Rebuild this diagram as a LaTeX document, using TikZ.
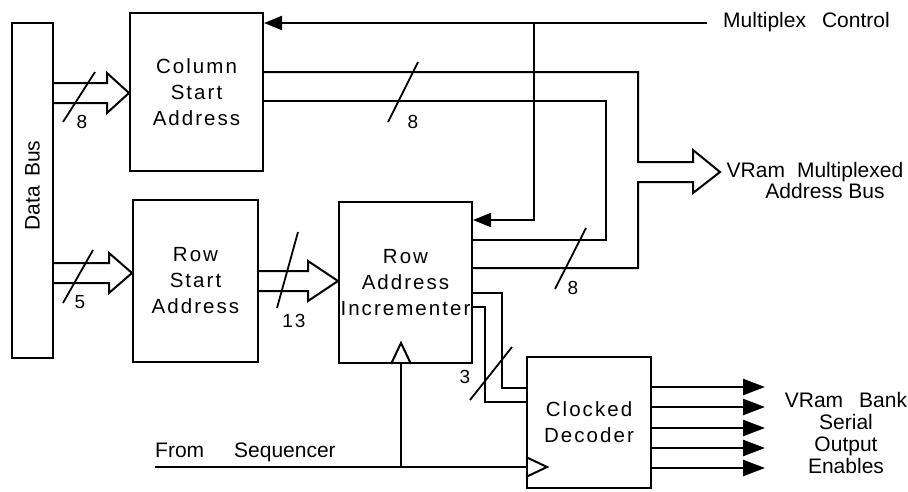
\documentclass[tikz,border=0pt]{standalone}
\usepackage{fontspec}
\setmainfont{Liberation Sans}
\newfontfamily\blkfam[LetterSpace=10]{Liberation Sans}
\newcommand{\blkfont}{\blkfam\fontsize{20.5}{26}\selectfont}
\newcommand{\lblfont}{\fontsize{21}{24}\selectfont}
\newcommand{\numfont}{\blkfam\fontsize{19}{20}\selectfont}
\usetikzlibrary{arrows.meta,calc}

% double-line bus with open head: from, to, y of tip, head length
\newcommand{\hbus}[4]{%
  \draw[wire] (#1.east |- 0,#3-10) -- ($(#2.west |- 0,#3)+(-#4,-10)$) -- ++(0,-10)
    -- (#2.west |- 0,#3) -- ++(-#4,20) -- ++(0,-10) -- (#1.east |- 0,#3+10);}

\tikzset{
  blk/.style={draw, line width=2pt, inner sep=0pt, align=center, font=\blkfont},
  wire/.style={line width=2pt},
  sig/.style={wire, -{Triangle[length=18pt,width=14pt]}},
  outarrow/.style={line width=2.4pt, -{Triangle[length=22pt,width=16pt]}},
  slash/.style={line width=1.8pt},
  lbl/.style={font=\lblfont, inner sep=0pt},
  num/.style={font=\numfont, inner sep=0pt}
}

\begin{document}
\begin{tikzpicture}[x=1pt, y=-1pt]
  \useasboundingbox (0,0) rectangle (908,491);

  % blocks
  \node[blk, minimum width=41pt, minimum height=335pt] (db) at (32.5,190.5) {};
  \node[lbl, rotate=90] (dbtext) at ($(db)+(0,-5)$) {Data\hspace{9pt}Bus};
  \node[blk, minimum width=133pt, minimum height=158pt] (col) at (196.5,92) {Column\\Start\\Address};
  \node[blk, minimum width=125pt, minimum height=162pt] (rsa) at (195.5,281) {Row\\Start\\Address};
  \node[blk, minimum width=133pt, minimum height=161pt] (inc) at (405.5,282.5) {Row\\Address\\Incrementer};
  \node[blk, minimum width=124pt, minimum height=131pt] (dec) at (589,422.5) {Clocked\\Decoder};

  % free ends
  \coordinate (mux) at (707,23);
  \coordinate (mj) at (534,23);
  \coordinate (vram) at (720,172);
  \coordinate (seq) at (155,467);
  \coordinate (ck) at (401,467);
  \coordinate (outR) at (765,0);

  % input buses
  \hbus{db}{col}{93}{22}
  \hbus{db}{rsa}{273}{23}
  \hbus{rsa}{inc}{281}{30}
  \draw[slash] (63,122) -- (95,72);
  \node[num] (n8a) at (82,122) {8};
  \draw[slash] (63,303) -- (93,250);
  \node[num] (n5) at (80,302) {5};
  \draw[slash] (277,308) -- (298,232);
  \node[num] (n13) at (294,321) {13};

  % multiplex control
  \draw[sig] (mux) -- (col.east |- mux);
  \draw[sig] (mj) |- (inc.east |- 0,220);
  \node[lbl, anchor=base west] (muxtext) at (723,27) {Multiplex\hspace{16pt}Control};

  % multiplexed address bus
  \draw[wire] (col.east |- 0,72) -| ($(vram)+(-82,-10)$) -- ($(vram)+(-27,-10)$) -- ++(0,-12)
    -- (vram) -- ++(-27,21) -- ++(0,-11) -- ($(vram)+(-82,10)$) |- (inc.east |- 0,268);
  \draw[wire] (col.east |- 0,101) -| (606,240) -- (inc.east |- 0,240);
  \draw[slash] (388,122) -- (418,62);
  \node[num] (n8b) at (413,122) {8};
  \draw[slash] (555,289) -- (586,228);
  \node[num] (n8c) at (573,288) {8};
  \node[lbl, align=center, anchor=center] (vramtext) at (815,180)
    {VRam\hspace{12pt}Multiplexed\\[-3pt]\hspace{20pt}Address Bus};

  % bank select to decoder
  \draw[wire] (inc.east |- 0,293) -| (502,388) -- (dec.west |- 0,388);
  \draw[wire] (inc.east |- 0,307) -| (485,402) -- (dec.west |- 0,402);
  \draw[slash] (470,400) -- (512,347);
  \node[num] (n3) at (465,377) {3};

  % clock from sequencer
  \draw[wire] (seq) -- (dec.west |- seq);
  \draw[wire] (ck) -- (ck |- inc.south);
  \draw[wire] ($(ck |- inc.south)+(-10,0)$) -- ++(10,-21) -- ++(10,21);
  \draw[wire] (dec.west |- 0,457) -- ++(21,10) -- ++(-21,10);
  \node[lbl, anchor=base west] (seqtext) at (seq |- 0,457) {From\hspace{30pt}Sequencer};

  % decoder outputs
  \foreach \yy in {387,407,428,448,468}
    \draw[outarrow] (dec.east |- 0,\yy) -- (outR |- 0,\yy);
  \node[lbl, align=center] (banktext) at (846,433)
    {VRam\hspace{16pt}Bank\\[-2pt]Serial\\[-2pt]Output\\[-2pt]Enables};
\end{tikzpicture}
\end{document}
